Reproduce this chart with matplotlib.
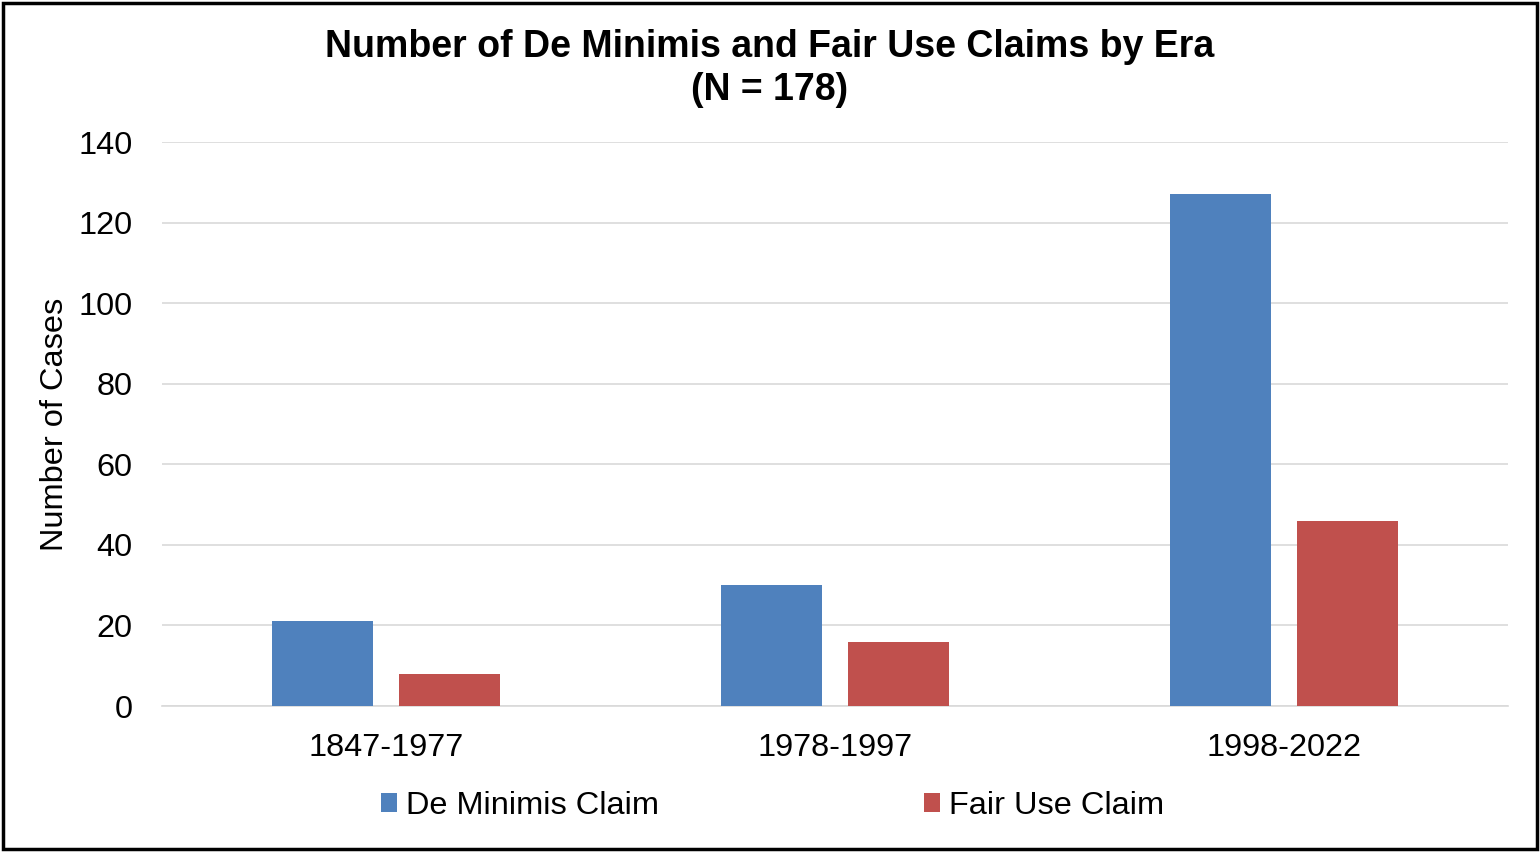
import matplotlib
matplotlib.use("Agg")
import matplotlib.pyplot as plt
import numpy as np
from matplotlib.patches import Rectangle

plt.rcParams['font.family'] = ['Liberation Sans', 'DejaVu Sans']

eras = ["1847-1977", "1978-1997", "1998-2022"]
de_minimis = [21, 30, 127]
fair_use = [8, 16, 46]
series_names = ["De Minimis Claim", "Fair Use Claim"]
colors = ["#4F81BD", "#C0504D"]
yticks = [0, 20, 40, 60, 80, 100, 120, 140]

fs = 23.4

fig = plt.figure(figsize=(15.4, 8.52), dpi=100)
ax = fig.add_axes([162/1540, 1-706/852, (1508-162)/1540, (706-142)/852])

x = np.arange(len(eras))
w = 0.225
ax.bar(x - 0.1415, de_minimis, w, color=colors[0], label=series_names[0], zorder=3)
ax.bar(x + 0.1415, fair_use, w, color=colors[1], label=series_names[1], zorder=3)

ax.set_xlim(-0.5, 2.5)
ax.set_ylim(0, 140)
ax.set_yticks(yticks)
ax.set_xticks(x)
ax.set_xticklabels(eras)
ax.grid(axis='y', color='#d9d9d9', linewidth=1.2, zorder=0)
for s in ['top', 'right', 'left']:
    ax.spines[s].set_visible(False)
ax.spines['bottom'].set_color('#d9d9d9')
ax.spines['bottom'].set_linewidth(1.2)
ax.tick_params(axis='y', length=0, pad=21, labelsize=fs)
ax.tick_params(axis='x', length=0, pad=19.5, labelsize=fs)
ax.set_ylabel("Number of Cases", fontsize=fs)
ax.yaxis.set_label_coords(-0.0684, 0.5)

fig.text(0.5, 1-47/852, "Number of De Minimis and Fair Use Claims by Era",
         ha='center', va='center', fontsize=27, fontweight='bold')
fig.text(0.5, 1-90/852, "(N = 178)",
         ha='center', va='center', fontsize=27, fontweight='bold')

leg = fig.legend(loc='center', bbox_to_anchor=(0.5016, 1-806/852), ncol=2, frameon=False,
                 fontsize=fs, handlelength=0.49, handleheight=0.49, handletextpad=0.28,
                 columnspacing=8.15, borderpad=0, borderaxespad=0)

fig.patches.append(Rectangle((3/1540, 3/852), 1-6/1540, 1-6/852, transform=fig.transFigure,
                             fill=False, edgecolor='black', linewidth=2.5))

fig.savefig("out.png", dpi=100)
